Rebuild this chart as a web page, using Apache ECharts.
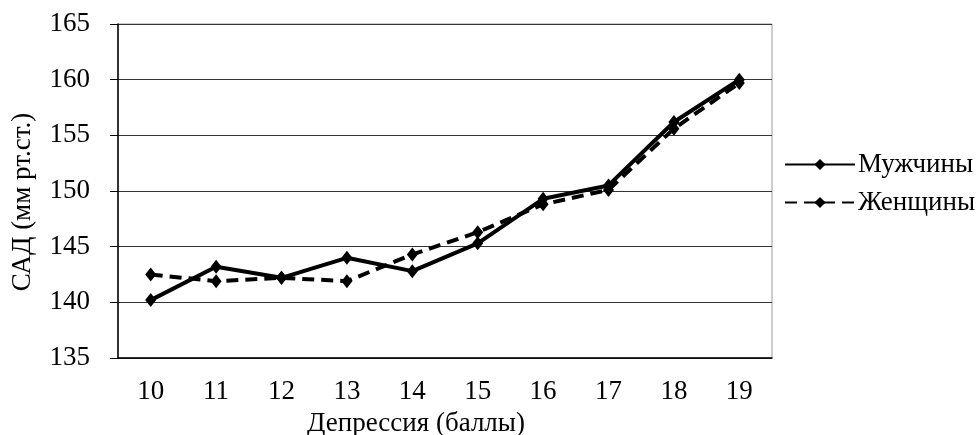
<!DOCTYPE html>
<html>
<head>
<meta charset="utf-8">
<script src="https://cdn.jsdelivr.net/npm/echarts@6/dist/echarts.min.js"></script>
<style>
  html, body { margin: 0; padding: 0; background: #fff; }
  #chart { width: 977px; height: 435px; }
</style>
</head>
<body>
<div id="chart"></div>
<script>
var categories = ["10", "11", "12", "13", "14", "15", "16", "17", "18", "19"];
var men = [140.2, 143.2, 142.2, 144.0, 142.8, 145.3, 149.3, 150.5, 156.2, 160.0];
var women = [142.5, 141.9, 142.2, 141.9, 144.3, 146.3, 148.8, 150.1, 155.6, 159.7];

var font = "Liberation Serif, Times New Roman, serif";
var fs = 27;

var myChart = echarts.init(document.getElementById("chart"));
var option = {
  backgroundColor: "#fff",
  animation: false,
  textStyle: { fontFamily: font, color: "#000" },
  grid: {
    left: 118, right: 205, top: 24, bottom: 77,
    outerBoundsMode: "none",
    show: true, borderColor: "#999", borderWidth: 1
  },
  legend: {
    orient: "vertical",
    left: 779,
    top: 146,
    itemWidth: 70,
    itemHeight: 14,
    itemGap: 11,
    textStyle: { fontFamily: font, fontSize: fs, lineHeight: 27, color: "#000", padding: [0, 0, 0, -2] },
    data: ["Мужчины", "Женщины"]
  },
  xAxis: {
    type: "category",
    data: categories,
    boundaryGap: true,
    name: "Депрессия (баллы)",
    nameLocation: "middle",
    nameGap: 52,
    nameTextStyle: { fontFamily: font, fontSize: fs, color: "#000", padding: [0, 58, 0, 0] },
    axisLine: { lineStyle: { color: "#000", width: 1.5 } },
    axisTick: { length: 9, lineStyle: { color: "#000" } },
    axisLabel: { fontFamily: font, fontSize: fs, color: "#000", margin: 20 },
    splitLine: { show: false }
  },
  yAxis: {
    type: "value",
    min: 135,
    max: 165,
    interval: 5,
    name: "САД (мм рт.ст.)",
    nameLocation: "middle",
    nameGap: 82,
    nameTextStyle: { fontFamily: font, fontSize: fs, color: "#000", padding: [0, 22, 0, 0] },
    axisLine: { show: true, lineStyle: { color: "#000", width: 1.5 } },
    axisTick: { show: true, length: 8, lineStyle: { color: "#000" } },
    axisLabel: { fontFamily: font, fontSize: fs, color: "#000", margin: 28 },
    splitLine: { show: true, lineStyle: { color: "#333", width: 1 } }
  },
  series: [
    {
      name: "Мужчины",
      type: "line",
      data: men,
      symbol: "diamond",
      symbolSize: [11, 14],
      lineStyle: { color: "#000", width: 4 },
      itemStyle: { color: "#000" }
    },
    {
      name: "Женщины",
      type: "line",
      data: women,
      symbol: "diamond",
      symbolSize: [11, 14],
      lineStyle: { color: "#000", width: 4, type: [12, 7] },
      itemStyle: { color: "#000" }
    }
  ]
};
myChart.setOption(option);
</script>
</body>
</html>
